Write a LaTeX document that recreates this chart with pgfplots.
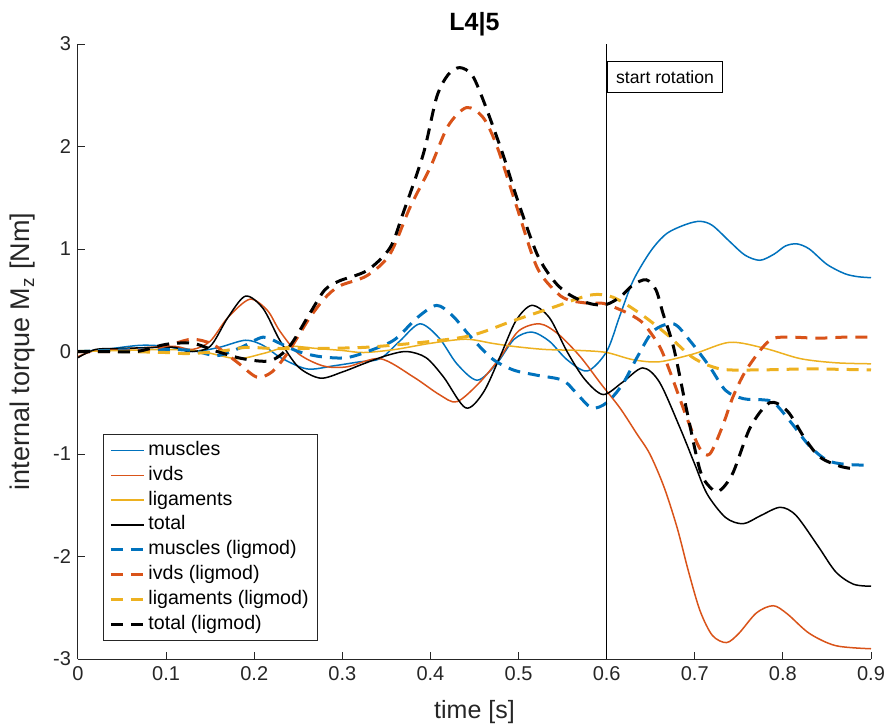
\documentclass[border=0pt]{standalone}
\usepackage{fontspec}
\setmainfont{Liberation Sans}
\usepackage{pgfplots}
\pgfplotsset{compat=1.18}

\definecolor{mblue}{rgb}{0,0.447,0.741}
\definecolor{morange}{rgb}{0.85,0.325,0.098}
\definecolor{myellow}{rgb}{0.929,0.694,0.125}

\pgfplotsset{
  sol/.style={smooth, line width=0.75pt},
  dsh/.style={smooth, line width=1.5pt, dash pattern=on 6pt off 4pt},
}

\begin{document}
\begin{tikzpicture}
\useasboundingbox (-39pt,-33pt) rectangle (405pt,329.5pt);
\begin{axis}[
    at={(0,0)}, anchor=south west,
    scale only axis,
    width=396.5pt, height=307.5pt,
    xmin=0, xmax=0.9, ymin=-3, ymax=3,
    axis x line=bottom, axis y line=left,
    axis line style={-, black!85, line width=0.5pt},
    tick style={black!85, line width=0.5pt},
    tick align=inside,
    major tick length=3.5pt,
    xtick={0,0.1,...,0.9},
    ytick={-3,-2,...,3},
    xticklabel style={/pgf/number format/fixed, /pgf/number format/precision=1},
    /pgf/number format/assume math mode=true,
    ticklabel style={font=\fontsize{10}{12}\selectfont, black!85},
    title={L4|5},
    title style={font=\bfseries\fontsize{12.5}{14}\selectfont, yshift=-5.5pt},
    xlabel={time [s]},
    ylabel={internal torque M\textsubscript{z} [Nm]},
    xlabel style={font=\fontsize{12.5}{14}\selectfont, black!85, yshift=-3pt},
    ylabel style={font=\fontsize{13.5}{15}\selectfont, black!85, yshift=2pt},
    legend cell align=left,
    legend image code/.code={\draw[#1] (0pt,0pt) -- (16.5pt,0pt);},
    legend style={
        at={(0,0)}, anchor=south west, xshift=12.5pt, yshift=9pt,
        draw=black!85, line width=0.5pt,
        font=\fontsize{9.8}{11}\selectfont,
        nodes={inner sep=1.5pt, text height=7.2pt, text depth=2.2pt},
        row sep=0pt,
    },
]
\addplot[sol, color=mblue] coordinates {
(0,0)(0.03,0.02)(0.07,0.06)(0.1,0.05)(0.13,0.0)(0.16,0.04)(0.19,0.11)(0.21,0.06)
(0.23,-0.06)(0.26,-0.17)(0.29,-0.14)(0.32,-0.1)(0.343,-0.07)(0.365,0.1)(0.388,0.27)
(0.41,0.13)(0.43,-0.12)(0.453,-0.28)(0.475,-0.12)(0.495,0.12)(0.515,0.19)(0.535,0.1)
(0.555,-0.08)(0.578,-0.19)(0.6,0.0)(0.615,0.35)(0.63,0.69)(0.65,0.98)(0.668,1.15)
(0.69,1.24)(0.706,1.27)(0.72,1.23)(0.74,1.07)(0.757,0.94)(0.774,0.89)(0.79,0.95)
(0.803,1.03)(0.816,1.05)(0.83,1.0)(0.85,0.85)(0.87,0.76)(0.885,0.73)(0.9,0.72)
};
\addlegendentry{muscles}
\addplot[sol, color=morange] coordinates {
(0,-0.05)(0.02,0.01)(0.05,0.02)(0.08,0.04)(0.11,0.05)(0.13,0.02)(0.15,0.1)(0.17,0.33)
(0.195,0.51)(0.215,0.4)(0.229,0.2)(0.25,-0.02)(0.278,-0.14)(0.305,-0.15)(0.343,-0.07)
(0.381,-0.25)(0.41,-0.42)(0.43,-0.49)(0.456,-0.3)(0.479,-0.06)(0.5,0.2)(0.524,0.27)
(0.545,0.17)(0.57,-0.05)(0.593,-0.31)(0.615,-0.55)(0.634,-0.8)(0.649,-1.0)(0.665,-1.32)
(0.68,-1.72)(0.693,-2.15)(0.706,-2.53)(0.72,-2.77)(0.736,-2.84)(0.75,-2.75)(0.77,-2.55)
(0.789,-2.48)(0.805,-2.56)(0.83,-2.75)(0.86,-2.87)(0.9,-2.9)
};
\addlegendentry{ivds}
\addplot[sol, color=myellow] coordinates {
(0,0)(0.05,0.01)(0.1,0.02)(0.14,0.0)(0.18,-0.07)(0.21,-0.02)(0.24,0.05)(0.27,0.03)
(0.3,0.01)(0.324,-0.01)(0.36,0.02)(0.4,0.08)(0.44,0.12)(0.47,0.08)(0.494,0.05)
(0.53,0.02)(0.57,0.01)(0.6,-0.01)(0.63,-0.08)(0.66,-0.1)(0.7,-0.02)(0.74,0.09)
(0.78,0.03)(0.82,-0.07)(0.86,-0.11)(0.9,-0.12)
};
\addlegendentry{ligaments}
\addplot[sol, color=black] coordinates {
(0,-0.06)(0.02,0.02)(0.05,0.03)(0.09,0.04)(0.11,0.04)(0.127,0.0)(0.15,0.05)(0.17,0.33)
(0.19,0.54)(0.21,0.42)(0.229,0.11)(0.25,-0.15)(0.275,-0.26)(0.3,-0.2)(0.324,-0.12)
(0.35,-0.04)(0.373,0.0)(0.395,-0.06)(0.415,-0.25)(0.44,-0.55)(0.46,-0.4)(0.479,-0.05)
(0.497,0.3)(0.515,0.45)(0.535,0.33)(0.555,0.0)(0.575,-0.27)(0.596,-0.42)(0.618,-0.3)
(0.641,-0.16)(0.66,-0.3)(0.683,-0.74)(0.7,-1.1)(0.714,-1.39)(0.735,-1.62)(0.755,-1.68)
(0.775,-1.6)(0.797,-1.52)(0.815,-1.6)(0.84,-1.9)(0.86,-2.15)(0.88,-2.27)(0.9,-2.29)
};
\addlegendentry{total}
\addplot[dsh, color=mblue] coordinates {
(0,0)(0.03,0.01)(0.07,0.02)(0.1,0.02)(0.13,0.01)(0.158,-0.04)(0.185,0.04)(0.21,0.14)
(0.229,0.08)(0.25,0.0)(0.275,-0.05)(0.305,-0.06)(0.335,0.02)(0.36,0.12)(0.385,0.33)
(0.407,0.45)(0.425,0.35)(0.445,0.15)(0.47,-0.07)(0.494,-0.18)(0.52,-0.23)(0.55,-0.28)
(0.565,-0.4)(0.583,-0.55)(0.6,-0.5)(0.618,-0.32)(0.635,-0.05)(0.653,0.2)(0.676,0.27)
(0.695,0.1)(0.717,-0.15)(0.735,-0.38)(0.755,-0.46)(0.775,-0.47)(0.79,-0.5)(0.81,-0.7)
(0.83,-0.92)(0.85,-1.06)(0.87,-1.1)(0.9,-1.11)
};
\addlegendentry{muscles (ligmod)}
\addplot[dsh, color=morange] coordinates {
(0,0)(0.04,0.0)(0.08,0.02)(0.11,0.08)(0.13,0.12)(0.153,0.07)(0.18,-0.1)(0.203,-0.25)
(0.22,-0.2)(0.235,-0.05)(0.25,0.15)(0.263,0.33)(0.28,0.52)(0.297,0.64)(0.328,0.74)
(0.354,0.95)(0.377,1.41)(0.4,1.8)(0.42,2.2)(0.441,2.38)(0.46,2.28)(0.476,1.99)
(0.498,1.41)(0.521,0.82)(0.544,0.57)(0.558,0.5)(0.58,0.47)(0.596,0.47)(0.612,0.42)
(0.627,0.36)(0.642,0.27)(0.66,0.05)(0.672,-0.2)(0.692,-0.67)(0.706,-0.95)(0.717,-1.0)
(0.731,-0.74)(0.743,-0.45)(0.757,-0.2)(0.777,0.04)(0.79,0.13)(0.81,0.14)(0.84,0.13)
(0.87,0.14)(0.9,0.14)
};
\addlegendentry{ivds (ligmod)}
\addplot[dsh, color=myellow] coordinates {
(0,0)(0.05,0.0)(0.1,-0.01)(0.124,-0.02)(0.16,0.0)(0.19,0.04)(0.22,0.03)(0.267,0.03)
(0.324,0.04)(0.38,0.08)(0.43,0.13)(0.456,0.18)(0.494,0.3)(0.539,0.43)(0.581,0.55)
(0.607,0.53)(0.638,0.37)(0.668,0.17)(0.698,-0.06)(0.729,-0.17)(0.77,-0.18)(0.83,-0.17)
(0.9,-0.18)
};
\addlegendentry{ligaments (ligmod)}
\addplot[dsh, color=black] coordinates {
(0,0)(0.033,0.0)(0.067,0.0)(0.1,0.07)(0.13,0.08)(0.158,0.0)(0.187,-0.07)(0.218,-0.09)
(0.24,0.05)(0.263,0.37)(0.28,0.6)(0.297,0.69)(0.328,0.79)(0.354,1.01)(0.369,1.35)
(0.392,1.93)(0.407,2.48)(0.42,2.7)(0.433,2.77)(0.447,2.7)(0.46,2.45)(0.482,1.93)
(0.498,1.5)(0.521,0.95)(0.54,0.69)(0.555,0.57)(0.57,0.5)(0.585,0.46)(0.6,0.46)
(0.615,0.53)(0.63,0.65)(0.645,0.7)(0.656,0.6)(0.664,0.37)(0.676,0.04)(0.691,-0.58)
(0.706,-1.16)(0.718,-1.33)(0.728,-1.36)(0.743,-1.19)(0.763,-0.74)(0.785,-0.5)
(0.805,-0.58)(0.825,-0.85)(0.842,-1.03)(0.865,-1.12)(0.885,-1.15)
};
\addlegendentry{total (ligmod)}
\addplot[black, line width=0.6pt, forget plot] coordinates {(0.6,-3)(0.6,3)};
\node[draw=black, line width=0.5pt, fill=white, anchor=north west,
      font=\fontsize{8.8}{10}\selectfont, inner xsep=4.5pt,
      minimum height=15.5pt] at (axis cs:0.6,2.83) {start rotation};
\end{axis}
\end{tikzpicture}
\end{document}
